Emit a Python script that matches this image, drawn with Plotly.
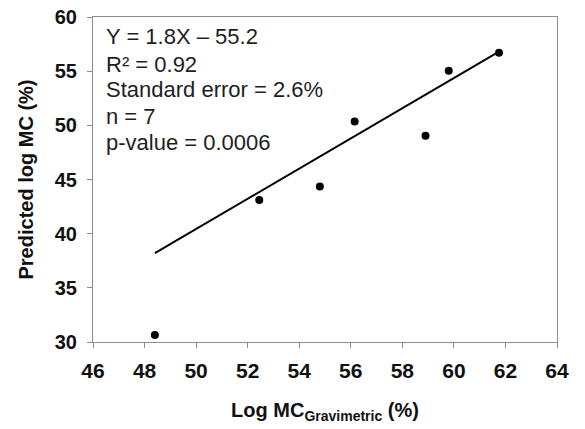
import plotly.graph_objects as go

# Gravimetric vs. predicted log moisture content (%)
log_mc_gravimetric = [48.4, 52.45, 54.8, 56.15, 58.9, 59.8, 61.75]
predicted_log_mc = [30.65, 43.1, 44.35, 50.35, 49.05, 55.05, 56.7]

# Trend line as drawn (end points)
fit_x = [48.4, 61.75]
fit_y = [38.2, 56.8]

stats_lines = [
    "Y = 1.8X \u2013 55.2",
    "R\u00b2 = 0.92",
    "Standard error = 2.6%",
    "n = 7",
    "p-value = 0.0006",
]
stats_y = [58.2, 55.65, 53.35, 50.85, 48.45]

x_ticks = [46, 48, 50, 52, 54, 56, 58, 60, 62, 64]
y_ticks = [30, 35, 40, 45, 50, 55, 60]

FONT = "Liberation Sans, Arial, sans-serif"
AXIS_GREY = "#8c8c8c"

fig = go.Figure()

fig.add_trace(go.Scatter(
    x=fit_x, y=fit_y, mode="lines",
    line=dict(color="black", width=2),
    showlegend=False, hoverinfo="skip",
))

fig.add_trace(go.Scatter(
    x=log_mc_gravimetric, y=predicted_log_mc, mode="markers",
    marker=dict(color="black", size=8),
    showlegend=False,
))

for text, y in zip(stats_lines, stats_y):
    fig.add_annotation(
        x=46.42, y=y, xref="x", yref="y", text=text,
        showarrow=False, xanchor="left", yanchor="middle",
        font=dict(family=FONT, size=22, color="#1e1e1e"),
    )

fig.update_layout(
    width=585, height=429,
    margin=dict(l=93, r=28, t=17, b=87),
    paper_bgcolor="white", plot_bgcolor="white",
    font=dict(family=FONT, color="#111111"),
)

fig.update_xaxes(
    range=[46, 64], tickvals=x_ticks, ticktext=[str(v) for v in x_ticks],
    showgrid=False, zeroline=False,
    showline=True, linecolor=AXIS_GREY, linewidth=1, mirror=True,
    ticks="outside", ticklen=5, tickcolor=AXIS_GREY, tickwidth=1,
    tickfont=dict(family=FONT, size=21, color="#111111", weight="bold"),
    ticklabelstandoff=5,
    title=dict(
        text="Log MC<sub>Gravimetric</sub> (%)",
        font=dict(family=FONT, size=20, color="#111111", weight="bold"),
        standoff=21,
    ),
    automargin=False,
)

fig.update_yaxes(
    range=[30, 60], tickvals=y_ticks, ticktext=[str(v) for v in y_ticks],
    showgrid=False, zeroline=False,
    showline=True, linecolor=AXIS_GREY, linewidth=1, mirror=True,
    ticks="outside", ticklen=5, tickcolor=AXIS_GREY, tickwidth=1,
    tickfont=dict(family=FONT, size=20, color="#111111", weight="bold"),
    ticklabelstandoff=6,
    title=dict(
        text="Predicted log MC (%)",
        font=dict(family=FONT, size=20, color="#111111", weight="bold"),
        standoff=15,
    ),
    automargin=False,
)

fig.write_html("out.html")
